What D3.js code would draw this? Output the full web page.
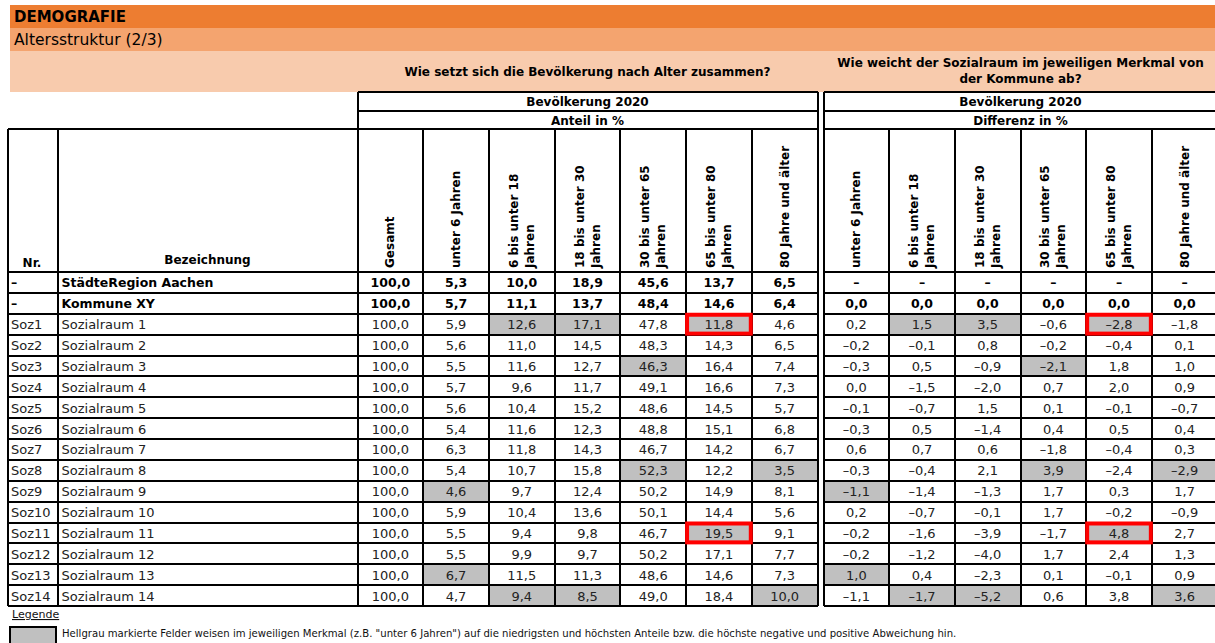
<!DOCTYPE html>
<html>
<head>
<meta charset="utf-8">
<script src="https://cdn.jsdelivr.net/npm/d3@7"></script>
<style>
  body { margin: 0; background: #fff; }
  svg { display: block; font-family: "DejaVu Sans", Verdana, sans-serif; }
</style>
</head>
<body>
<svg id="chart" width="1215" height="643"></svg>
<script>
// Table data
const rowIds = ["–", "–", "Soz1", "Soz2", "Soz3", "Soz4", "Soz5", "Soz6", "Soz7",
  "Soz8", "Soz9", "Soz10", "Soz11", "Soz12", "Soz13", "Soz14"];
const rowNames = ["StädteRegion Aachen", "Kommune XY", "Sozialraum 1", "Sozialraum 2",
  "Sozialraum 3", "Sozialraum 4", "Sozialraum 5", "Sozialraum 6", "Sozialraum 7",
  "Sozialraum 8", "Sozialraum 9", "Sozialraum 10", "Sozialraum 11", "Sozialraum 12",
  "Sozialraum 13", "Sozialraum 14"];
const totals = [100, 100, 100, 100, 100, 100, 100, 100, 100, 100, 100, 100, 100, 100, 100, 100];

// age group headers (lines of the rotated label)
const ageGroups = [["unter 6 Jahren"], ["6 bis unter 18", "Jahren"], ["18 bis unter 30", "Jahren"],
  ["30 bis unter 65", "Jahren"], ["65 bis unter 80", "Jahren"], ["80 Jahre und älter"]];

// Anteil in %
const shares = [
  [5.3, 10.0, 18.9, 45.6, 13.7, 6.5],
  [5.7, 11.1, 13.7, 48.4, 14.6, 6.4],
  [5.9, 12.6, 17.1, 47.8, 11.8, 4.6],
  [5.6, 11.0, 14.5, 48.3, 14.3, 6.5],
  [5.5, 11.6, 12.7, 46.3, 16.4, 7.4],
  [5.7, 9.6, 11.7, 49.1, 16.6, 7.3],
  [5.6, 10.4, 15.2, 48.6, 14.5, 5.7],
  [5.4, 11.6, 12.3, 48.8, 15.1, 6.8],
  [6.3, 11.8, 14.3, 46.7, 14.2, 6.7],
  [5.4, 10.7, 15.8, 52.3, 12.2, 3.5],
  [4.6, 9.7, 12.4, 50.2, 14.9, 8.1],
  [5.9, 10.4, 13.6, 50.1, 14.4, 5.6],
  [5.5, 9.4, 9.8, 46.7, 19.5, 9.1],
  [5.5, 9.9, 9.7, 50.2, 17.1, 7.7],
  [6.7, 11.5, 11.3, 48.6, 14.6, 7.3],
  [4.7, 9.4, 8.5, 49.0, 18.4, 10.0]
];

// Differenz in % (first row has no value)
const diffs = [
  null,
  [0.0, 0.0, 0.0, 0.0, 0.0, 0.0],
  [0.2, 1.5, 3.5, -0.6, -2.8, -1.8],
  [-0.2, -0.1, 0.8, -0.2, -0.4, 0.1],
  [-0.3, 0.5, -0.9, -2.1, 1.8, 1.0],
  [0.0, -1.5, -2.0, 0.7, 2.0, 0.9],
  [-0.1, -0.7, 1.5, 0.1, -0.1, -0.7],
  [-0.3, 0.5, -1.4, 0.4, 0.5, 0.4],
  [0.6, 0.7, 0.6, -1.8, -0.4, 0.3],
  [-0.3, -0.4, 2.1, 3.9, -2.4, -2.9],
  [-1.1, -1.4, -1.3, 1.7, 0.3, 1.7],
  [0.2, -0.7, -0.1, 1.7, -0.2, -0.9],
  [-0.2, -1.6, -3.9, -1.7, 4.8, 2.7],
  [-0.2, -1.2, -4.0, 1.7, 2.4, 1.3],
  [1.0, 0.4, -2.3, 0.1, -0.1, 0.9],
  [-1.1, -1.7, -5.2, 0.6, 3.8, 3.6]
];

// highlighted cells [row, age group], same in both tables
const greyCells = [[2, 1], [2, 2], [2, 4], [4, 3], [9, 3], [9, 5], [10, 0], [12, 4],
  [14, 0], [15, 1], [15, 2], [15, 5]];
const redCells = [[2, 4], [12, 4]];

const legendText = "Hellgrau markierte Felder weisen im jeweiligen Merkmal (z.B. \"unter 6 Jahren\") auf die niedrigsten und höchsten Anteile bzw. die höchste negative und positive Abweichung hin.";

// German number format
const de = d3.formatLocale({decimal: ",", thousands: ".", grouping: [3], currency: ["", " €"], minus: "–"});
const fmt = de.format(".1f");

const svg = d3.select("#chart");

// Header bands
svg.append("rect").attr("x", 10).attr("y", 5).attr("width", 1205).attr("height", 23).attr("fill", "#ed7d31");
svg.append("rect").attr("x", 10).attr("y", 28).attr("width", 1205).attr("height", 23).attr("fill", "#f4a46f");
svg.append("rect").attr("x", 10).attr("y", 51).attr("width", 1205).attr("height", 41).attr("fill", "#f8cbad");
svg.append("text").attr("x", 14).attr("y", 22).attr("font-size", 15).attr("font-weight", "bold").text("DEMOGRAFIE");
svg.append("text").attr("x", 14).attr("y", 45).attr("font-size", 15.5).text("Altersstruktur (2/3)");

// Scales
const tableTop = 272, tableBottom = 606;
const y = d3.scaleBand().domain(d3.range(rowIds.length)).range([tableTop, tableBottom]);
const xLeft = d3.scaleBand().domain(d3.range(7)).range([357.5, 817.5]);
const xRight = d3.scaleBand().domain(d3.range(6)).range([823.5, 1217.5]);
const nrX0 = 8, nrX1 = 57.5;

// questions
svg.append("text").attr("x", (357.5 + 817.5) / 2).attr("y", 76).attr("text-anchor", "middle")
  .attr("font-size", 12).attr("font-weight", "bold").text("Wie setzt sich die Bevölkerung nach Alter zusammen?");
svg.append("text").attr("x", (823.5 + 1217.5) / 2).attr("y", 67).attr("text-anchor", "middle")
  .attr("font-size", 12).attr("font-weight", "bold").text("Wie weicht der Sozialraum im jeweiligen Merkmal von");
svg.append("text").attr("x", (823.5 + 1217.5) / 2).attr("y", 83).attr("text-anchor", "middle")
  .attr("font-size", 12).attr("font-weight", "bold").text("der Kommune ab?");

// grey fill cells
const cells = svg.append("g");
greyCells.forEach(([r, c]) => {
  cells.append("rect").attr("x", xLeft(c + 1)).attr("y", y(r)).attr("width", xLeft.bandwidth()).attr("height", y.bandwidth()).attr("fill", "#c0c0c0");
  cells.append("rect").attr("x", xRight(c)).attr("y", y(r)).attr("width", xRight.bandwidth()).attr("height", y.bandwidth()).attr("fill", "#c0c0c0");
});

// grid lines
const grid = svg.append("g").attr("stroke", "#000").attr("stroke-width", 2).attr("shape-rendering", "crispEdges");
function hline(x1, x2, yy) { grid.append("line").attr("x1", x1).attr("x2", x2).attr("y1", yy).attr("y2", yy); }
function vline(xx, y1, y2) { grid.append("line").attr("x1", xx).attr("x2", xx).attr("y1", y1).attr("y2", y2); }

[xLeft, xRight].forEach(sc => {
  const [a, b] = sc.range();
  hline(a, b, 92);
  hline(a, b, 111);
  vline(a, 92, tableBottom);
  vline(b, 92, tableBottom);
});
hline(nrX0, 817.5, 129);
hline(823.5, 1217.5, 129);
vline(nrX0, 129, tableBottom);
vline(nrX1, 129, tableBottom);
xLeft.domain().forEach(i => { if (i > 0) vline(xLeft(i), 129, tableBottom); });
xRight.domain().forEach(i => { if (i > 0) vline(xRight(i), 129, tableBottom); });
y.domain().forEach(i => {
  hline(nrX0, 817.5, y(i));
  hline(823.5, 1217.5, y(i));
});
hline(nrX0, 817.5, tableBottom);
hline(823.5, 1217.5, tableBottom);

// top header texts
const hdr = svg.append("g").attr("font-size", 12).attr("font-weight", "bold").attr("text-anchor", "middle");
[[xLeft, "Anteil in %"], [xRight, "Differenz in %"]].forEach(([sc, sub]) => {
  const cx = (sc.range()[0] + sc.range()[1]) / 2;
  hdr.append("text").attr("x", cx).attr("y", 106).text("Bevölkerung 2020");
  hdr.append("text").attr("x", cx).attr("y", 125).text(sub);
});
hdr.append("text").attr("x", 32).attr("y", 267).text("Nr.");
hdr.append("text").attr("x", (nrX1 + 357.5) / 2).attr("y", 264).text("Bezeichnung");

// rotated column headers
function rotHeader(cx, lines) {
  const off = (lines.length - 1) * 8;
  lines.forEach((ln, k) => {
    const xx = cx - off + k * 16 + 4;
    svg.append("text").attr("transform", `translate(${xx},268) rotate(-90)`)
      .attr("font-size", 12).attr("font-weight", "bold").text(ln);
  });
}
rotHeader(xLeft(0) + xLeft.bandwidth() / 2, ["Gesamt"]);
ageGroups.forEach((g, i) => {
  rotHeader(xLeft(i + 1) + xLeft.bandwidth() / 2, g);
  rotHeader(xRight(i) + xRight.bandwidth() / 2, g);
});

// body rows
const body = svg.append("g");
rowIds.forEach((id, r) => {
  const bold = r < 2;
  const yy = y(r) + y.bandwidth() / 2 + 5;
  const g = body.append("g").attr("font-weight", bold ? "bold" : "normal")
    .attr("font-size", bold ? 12.5 : 13).attr("fill", bold ? "#000" : "#222");
  g.append("text").attr("x", nrX0 + 3).attr("y", yy).text(id);
  g.append("text").attr("x", nrX1 + 4).attr("y", yy).text(rowNames[r]);
  g.append("text").attr("x", xLeft(0) + xLeft.bandwidth() / 2).attr("y", yy).attr("text-anchor", "middle").text(fmt(totals[r]));
  shares[r].forEach((v, c) => {
    g.append("text").attr("x", xLeft(c + 1) + xLeft.bandwidth() / 2).attr("y", yy).attr("text-anchor", "middle").text(fmt(v));
  });
  xRight.domain().forEach(c => {
    const v = diffs[r] ? fmt(diffs[r][c]) : "–";
    g.append("text").attr("x", xRight(c) + xRight.bandwidth() / 2).attr("y", yy).attr("text-anchor", "middle").text(v);
  });
});

// red frames
redCells.forEach(([r, c]) => {
  [[xLeft, c + 1], [xRight, c]].forEach(([sc, ci]) => {
    svg.append("rect").attr("x", sc(ci) + 1).attr("y", y(r) + 1)
      .attr("width", sc.bandwidth() - 2).attr("height", y.bandwidth() - 2)
      .attr("fill", "none").attr("stroke", "#ff0000").attr("stroke-width", 4);
  });
});

// legend
svg.append("text").attr("x", 12).attr("y", 618).attr("font-size", 11)
  .attr("text-decoration", "underline").attr("fill", "#111").text("Legende");
svg.append("rect").attr("x", 10).attr("y", 627).attr("width", 46).attr("height", 20)
  .attr("fill", "#c0c0c0").attr("stroke", "#000").attr("stroke-width", 2);
svg.append("text").attr("x", 62).attr("y", 637).attr("font-size", 10.1).attr("fill", "#111").text(legendText);
</script>
</body>
</html>
